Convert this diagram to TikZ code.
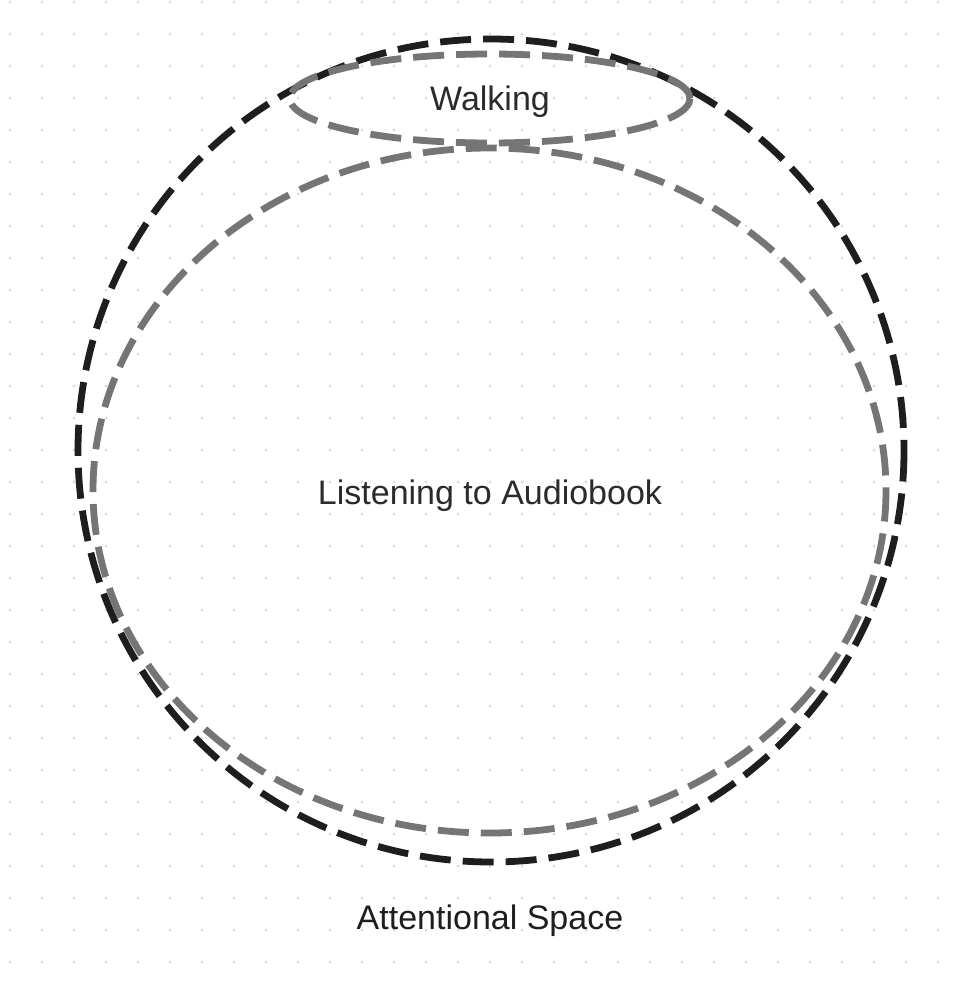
\documentclass[tikz,border=0pt]{standalone}
\usepackage{fontspec}
\setmainfont{Liberation Sans}
\definecolor{inkdark}{HTML}{1E1E1E}
\definecolor{inkgray}{HTML}{757575}
\definecolor{dotgray}{HTML}{D8D8D8}
\definecolor{txt}{HTML}{2B2B2B}
\begin{document}
\begin{tikzpicture}[x=1pt,y=-1pt,
  outline/.style={line width=6.8pt, dash pattern=on 31pt off 12pt},
  blackline/.style={outline, draw=inkdark},
  grayline/.style={outline, draw=inkgray},
  lbl/.style={font=\fontsize{34}{40}\selectfont, text=txt, inner sep=0pt}]
\useasboundingbox (0,0) rectangle (968,982);
\fill[white] (0,0) rectangle (968,982);
\foreach \i in {0,...,30} {
  \foreach \j in {0,...,30} {
    \fill[dotgray] (10+32*\i, 2+32*\j) circle (1.5pt);
  }
}
\draw[blackline] (491,450.5) ellipse [x radius=413, y radius=411.5];
\draw[grayline] (489.5,490.5) ellipse [x radius=396.5, y radius=342.5];
\draw[grayline] (490,98.5) ellipse [x radius=200, y radius=44.5];
\node[lbl] (walk) at (490,102) {Walking};
\node[lbl] (listen) at (490,496) {Listening to Audiobook};
\node[lbl, text=inkdark] (space) at (490,921) {Attentional Space};
\end{tikzpicture}
\end{document}
